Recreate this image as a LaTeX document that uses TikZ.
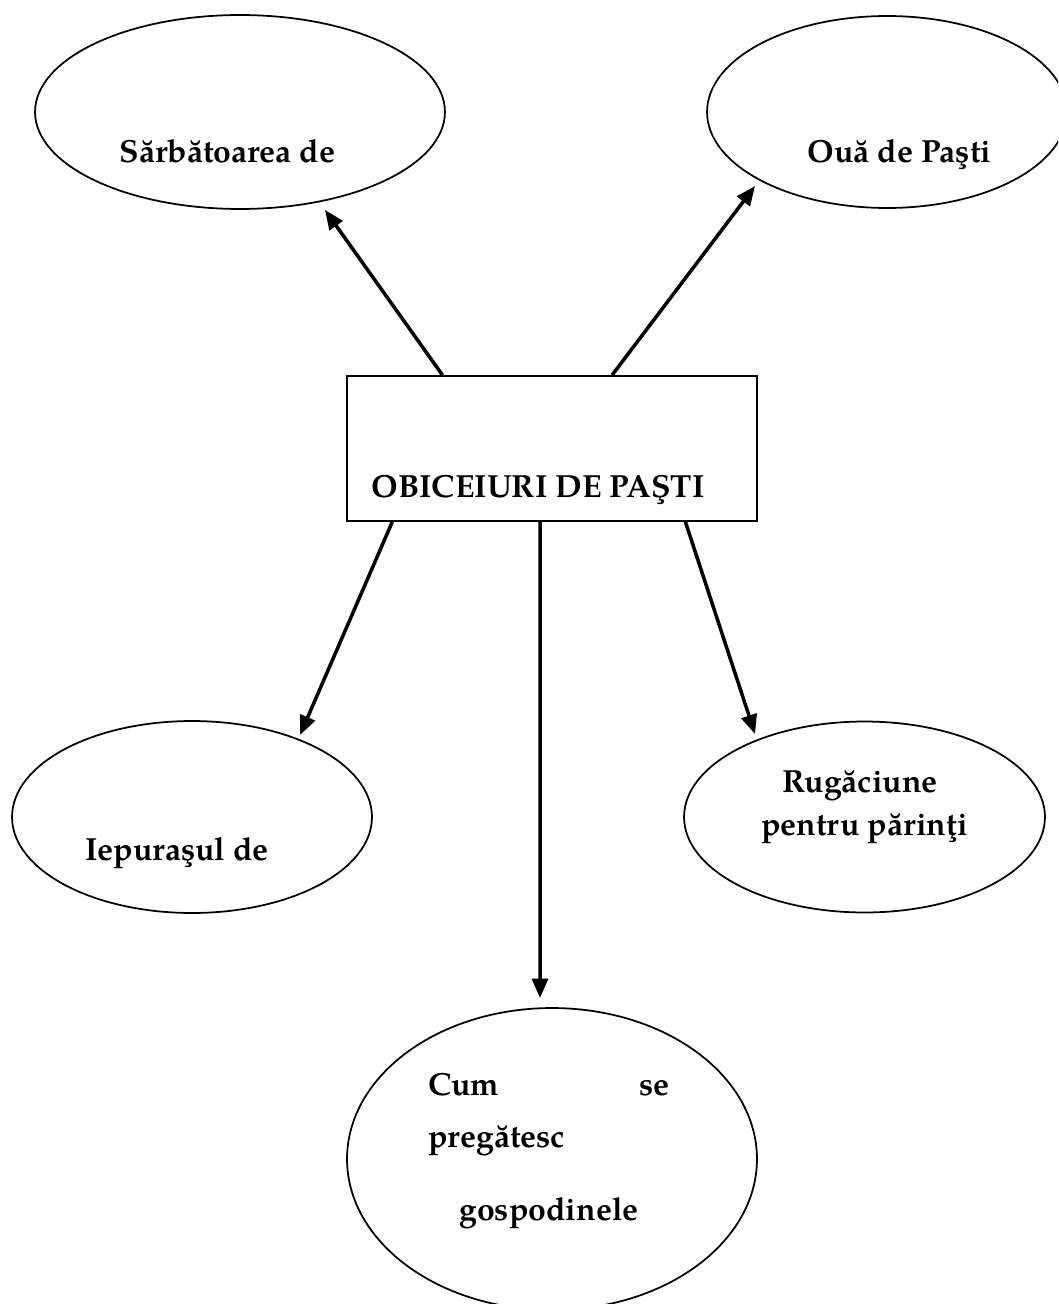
\documentclass[tikz,border=0pt]{standalone}
\usepackage{fontspec}
\setmainfont{TeX Gyre Pagella}
\usetikzlibrary{shapes.geometric,arrows.meta,calc}
\tikzset{
  bubble/.style={draw, ellipse, line width=1pt, inner sep=0pt},
  mainbox/.style={draw, rectangle, line width=1pt, inner sep=0pt, minimum width=8.2cm, minimum height=2.9cm},
  lbl/.style={inner sep=0pt, font=\fontsize{18.2}{21}\selectfont\bfseries},
  arr/.style={line width=2pt, -{Triangle[length=11pt,width=9pt]}}
}
\begin{document}
\begin{tikzpicture}[x=0.02cm,y=-0.02cm]
\useasboundingbox (0,0) rectangle (1058,1304);
\clip (0,0) rectangle (1058,1304);
% central box
\node[mainbox] (box) at (552,448.5) {};
\node[lbl, anchor=base] (tbox) at (538,497) {OBICEIURI DE PAŞTI};
% ellipses
\node[bubble, minimum width=8.2cm, minimum height=3.88cm] (e1) at (240,112) {};
\node[bubble, minimum width=7.2cm, minimum height=3.84cm] (e2) at (887,112) {};
\node[bubble, minimum width=7.2cm, minimum height=3.84cm] (e3) at (192,817) {};
\node[bubble, minimum width=7.22cm, minimum height=3.82cm] (e4) at (864.5,817) {};
\node[bubble, minimum width=8.2cm, minimum height=6.04cm] (e5) at (552,1159) {};
% labels
\node[lbl, anchor=base] (t1) at (227.5,163) {Sărbătoarea de};
\node[lbl, anchor=base] (t2) at (899.5,163) {Ouă de Paşti};
\node[lbl, anchor=base] (t3) at (177,860) {Iepuraşul de};
\node[lbl, anchor=base] (t4a) at (860,792) {Rugăciune};
\node[lbl, anchor=base] (t4b) at (864.5,835) {pentru părinţi};
\node[lbl, anchor=base west] (t5a) at (428,1095) {Cum};
\node[lbl, anchor=base east] (t5b) at (670,1095) {se};
\node[lbl, anchor=base west] (t5c) at (428,1147) {pregătesc};
\node[lbl, anchor=base] (t5d) at (549,1220) {gospodinele};
% arrows
\draw[arr] ($(box.north west)!0.234!(box.north east)$) -- ($(e1.center)+(85,98)$);
\draw[arr] ($(box.north west)!0.646!(box.north east)$) -- ($(e2.center)+(-132,74)$);
\draw[arr] ($(box.south west)!0.112!(box.south east)$) -- ($(e3.center)+(108,-82)$);
\draw[arr] ($(box.south west)!0.471!(box.south east)$) -- ($(e5.center)+(-12,-161)$);
\draw[arr] ($(box.south west)!0.824!(box.south east)$) -- ($(e4.center)+(-109.5,-83)$);
\end{tikzpicture}
\end{document}
